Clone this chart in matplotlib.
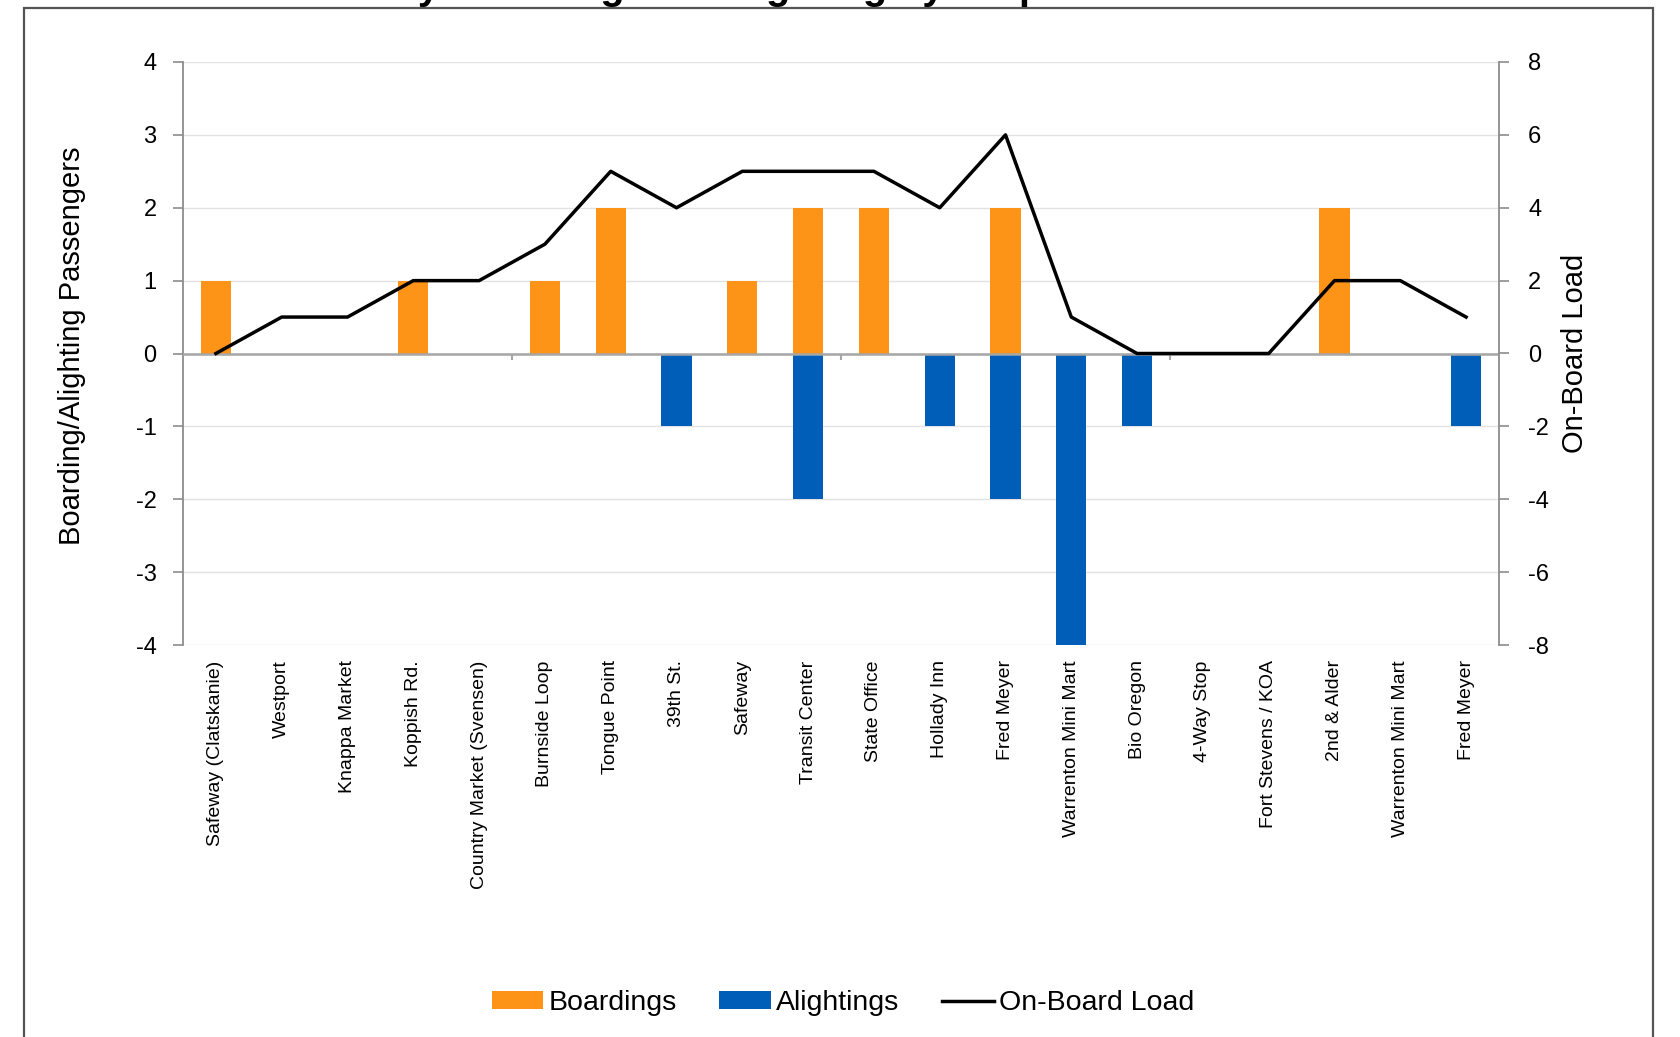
import matplotlib
matplotlib.use("Agg")
import matplotlib.pyplot as plt
from matplotlib.patches import Patch, Rectangle
from matplotlib.lines import Line2D
import numpy as np

plt.rcParams['font.family'] = ['Liberation Sans', 'DejaVu Sans']

stops = ["Safeway (Clatskanie)", "Westport", "Knappa Market", "Koppish Rd.",
         "Country Market (Svensen)", "Burnside Loop", "Tongue Point", "39th St.",
         "Safeway", "Transit Center", "State Office", "Hollady Inn", "Fred Meyer",
         "Warrenton Mini Mart", "Bio Oregon", "4-Way Stop", "Fort Stevens / KOA",
         "2nd & Alder", "Warrenton Mini Mart", "Fred Meyer"]
boardings = [1, 0, 0, 1, 0, 1, 2, 0, 1, 2, 2, 0, 2, 0, 0, 0, 0, 2, 0, 0]
alightings = [0, 0, 0, 0, 0, 0, 0, -1, 0, -2, 0, -1, -2, -4, -1, 0, 0, 0, 0, -1]
load = [0, 1, 1, 2, 2, 3, 5, 4, 5, 5, 5, 4, 6, 1, 0, 0, 0, 2, 2, 1]
left_ticks = [-4, -3, -2, -1, 0, 1, 2, 3, 4]
right_ticks = [-8, -6, -4, -2, 0, 2, 4, 6, 8]

ORANGE = '#FD9317'
BLUE = '#005EB8'
SPINE = '#8c8c8c'

fig = plt.figure(figsize=(16.8, 10.37), dpi=100)
ax = fig.add_axes([183/1680, 1-645/1037, (1499-183)/1680, (645-62)/1037])
ax2 = ax.twinx()

x = np.arange(len(stops))
ax.bar(x, boardings, width=0.46, color=ORANGE, zorder=2)
ax.bar(x, alightings, width=0.46, color=BLUE, zorder=2)
ax.axhline(0, color='#a6a6a6', lw=1.8, zorder=3)
# small tick marks on the zero line every 5 categories
ax.vlines(np.arange(5, len(stops), 5) - 0.5, -0.09, 0, color='#a6a6a6', lw=1.5, zorder=3)

ax.set_xlim(-0.5, len(stops) - 0.5)
ax.set_ylim(-4, 4)
ax.set_yticks(left_ticks)
ax.set_yticklabels([str(t) for t in left_ticks])
ax.grid(axis='y', color='#e3e3e3', lw=1.0, zorder=0)
ax.set_axisbelow(True)
ax.set_xticks(x)
ax.set_xticklabels(stops, rotation=90, fontsize=14, va='top', ha='center')
ax.tick_params(axis='x', length=0, pad=11)
ax.tick_params(axis='y', length=7, color=SPINE, width=1.2, labelsize=17, pad=12)
for s in ['top', 'bottom', 'right']:
    ax.spines[s].set_visible(False)
ax.spines['left'].set_color(SPINE)
ax.spines['left'].set_linewidth(1.3)
ax.set_ylabel("Boarding/Alighting Passengers", fontsize=21)
ax.yaxis.set_label_coords(-0.0737, 0.513)

ax2.plot(x, load, color='black', lw=2.5, zorder=5)
ax2.set_ylim(-8, 8)
ax2.set_yticks(right_ticks)
ax2.set_yticklabels([str(t) for t in right_ticks])
ax2.tick_params(axis='y', length=7, color=SPINE, width=1.2, labelsize=17, pad=14)
for s in ['top', 'bottom', 'left']:
    ax2.spines[s].set_visible(False)
ax2.spines['right'].set_color(SPINE)
ax2.spines['right'].set_linewidth(1.3)
ax2.set_ylabel("On-Board Load", fontsize=21)
ax2.yaxis.set_label_coords(1.0471, 0.501)

handles = [Patch(facecolor=ORANGE, edgecolor='none'),
           Patch(facecolor=BLUE, edgecolor='none'),
           Line2D([0], [0], color='black', lw=2.5)]
fig.legend(handles, ["Boardings", "Alightings", "On-Board Load"], loc='center',
           bbox_to_anchor=(843/1680, 1-1003/1037), ncol=3, frameon=False,
           fontsize=20.5, handlelength=1.8, handleheight=0.55, handletextpad=0.2,
           columnspacing=1.5)

# outer frame (extends past the bottom edge)
fig.patches.append(Rectangle((24/1680, -0.05), (1653-24)/1680, 1.05 - 8/1037,
                             transform=fig.transFigure, fill=False,
                             edgecolor='#555555', lw=1.6))

# title, mostly cut off by the top edge (as in the reference)
fig.text(269/1680, 1 + 1/1037, "Weekday Boarding and Alighting by Stop",
         fontsize=28.5, fontweight='bold', ha='left', va='baseline')

fig.savefig("out.png", dpi=100)
